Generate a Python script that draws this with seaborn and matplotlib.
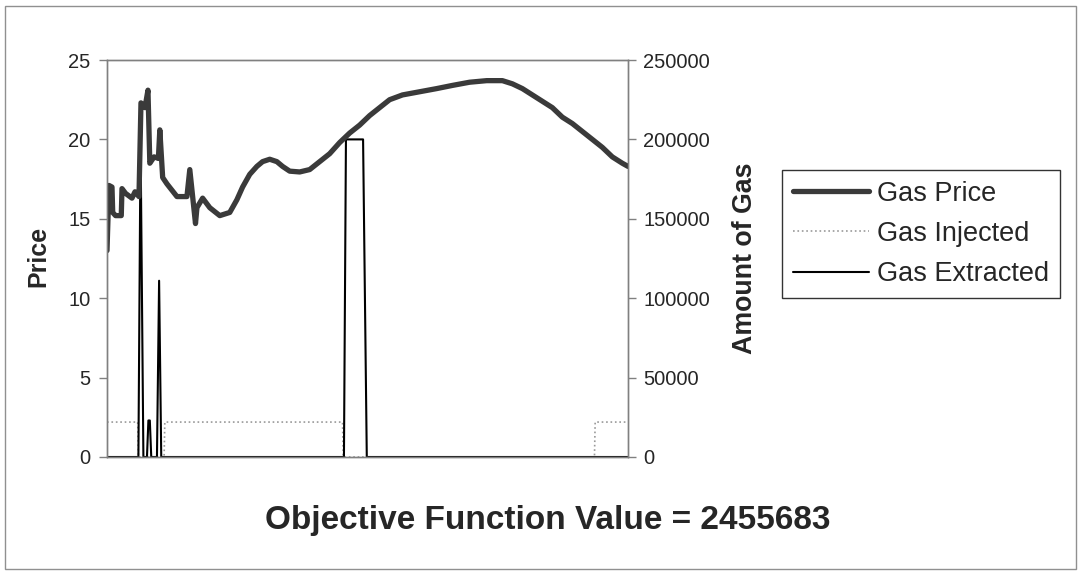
import matplotlib
matplotlib.use("Agg")
import matplotlib.pyplot as plt
import matplotlib.patches as patches
import seaborn as sns
import pandas as pd

# price curve (day of year -> $)
price_days = [0, 1.4, 3.5, 4, 6, 10, 10.5, 13, 16, 17.5, 19.6, 22.4, 23.8, 26.6, 28.7,
              30, 33, 36, 37, 39, 42, 45.5, 49, 56, 58, 62, 63, 67, 72,
              79, 86, 91, 95, 100, 105, 109, 114, 119, 123, 128, 135, 142, 149,
              156, 163, 170, 177, 184, 191, 198, 207, 219, 231, 242, 254, 266,
              277, 284, 291, 298, 305, 312, 319, 326, 333, 340, 347, 354, 361, 365]
price_vals = [13.0, 17.1, 17.0, 15.4, 15.2, 15.2, 16.9, 16.6, 16.4, 16.3, 16.7, 16.4,
              22.3, 22.0, 23.1, 18.5, 18.9, 18.8, 20.6, 17.6, 17.2, 16.8, 16.4, 16.4,
              18.1, 14.7, 15.7, 16.3, 15.7,
              15.2, 15.4, 16.2, 17.0, 17.8, 18.3, 18.6, 18.75, 18.6, 18.3, 18.0, 17.95,
              18.1, 18.6, 19.1, 19.8, 20.4, 20.9, 21.5, 22.0, 22.5, 22.8, 23.0, 23.2,
              23.4, 23.6, 23.7, 23.7, 23.5, 23.2, 22.8, 22.4, 22.0, 21.4, 21.0, 20.5,
              20.0, 19.5, 18.9, 18.5, 18.3]

# gas injected
inj_days = [0, 21.5, 22, 40, 40.5, 165, 165.5, 341.5, 342, 365]
inj_vals = [22000, 22000, 0, 0, 22000, 22000, 0, 0, 22000, 22000]

# gas extracted
ext_days = [0, 22, 23.5, 25.5, 28, 29, 30, 31, 35, 36.5, 38, 166, 167.4, 179.4, 182, 365]
ext_vals = [0, 0, 200000, 0, 0, 23000, 23000, 0, 0, 111000, 0, 0, 200000, 200000, 0, 0]

objective = 2455683

sns.set_style("white")
plt.rcParams['font.family'] = ['Liberation Sans', 'DejaVu Sans']

fig = plt.figure(figsize=(10.81, 5.74), dpi=100)
ax = fig.add_axes([107 / 1081, 117 / 574, 521 / 1081, 397 / 574])
ax2 = ax.twinx()

# price drawn above the amounts
ax.set_zorder(ax2.get_zorder() + 1)
ax.patch.set_visible(False)

price_df = pd.DataFrame({'day': price_days, 'price': price_vals})
inj_df = pd.DataFrame({'day': inj_days, 'amt': inj_vals})
ext_df = pd.DataFrame({'day': ext_days, 'amt': ext_vals})

sns.lineplot(data=price_df, x='day', y='price', ax=ax, color='#3a3a3a', lw=3.8,
             estimator=None, sort=False, label='Gas Price', legend=False)
sns.lineplot(data=inj_df, x='day', y='amt', ax=ax2, color='#999999', lw=1.2,
             linestyle=':', estimator=None, sort=False, label='Gas Injected', legend=False)
sns.lineplot(data=ext_df, x='day', y='amt', ax=ax2, color='black', lw=1.5,
             estimator=None, sort=False, label='Gas Extracted', legend=False)

ax.set_xlim(0, 365)
ax.set_ylim(0, 25)
ax2.set_ylim(0, 250000)
ax.set_yticks([0, 5, 10, 15, 20, 25])
ax2.set_yticks([0, 50000, 100000, 150000, 200000, 250000])
ax2.set_yticklabels([str(v) for v in [0, 50000, 100000, 150000, 200000, 250000]])
ax.set_xticks([])
ax.set_xlabel('')

ax.tick_params(axis='y', direction='out', length=6, width=1, color='#808080',
               labelsize=14.5, pad=6, left=True)
ax2.tick_params(axis='y', direction='out', length=6, width=1, color='#808080',
                labelsize=14.5, pad=5, right=True)

for a in (ax, ax2):
    for s in a.spines.values():
        s.set_color('#808080')
        s.set_linewidth(1)

ax.set_ylabel('Price', fontsize=18, fontweight='bold')
ax.yaxis.set_label_coords(-0.109, 0.505)
ax2.set_ylabel('Amount of Gas', fontsize=19.3, fontweight='bold')
ax2.yaxis.set_label_coords(1.2, 0.5)

handles = ax.get_lines()[:1] + ax2.get_lines()[:2]
leg = fig.legend(handles, ['Gas Price', 'Gas Injected', 'Gas Extracted'],
                 loc='upper left', bbox_to_anchor=(782 / 1081, 1 - 170 / 574),
                 fontsize=19.5, frameon=True, fancybox=False, handlelength=2.8,
                 handletextpad=0.3, labelspacing=0.52, borderpad=0.4,
                 borderaxespad=0)
leg.get_frame().set_edgecolor('black')
leg.get_frame().set_linewidth(1)

fig.text(548 / 1081, 1 - 520 / 574, f'Objective Function Value = {objective}',
         ha='center', va='center', fontsize=24, fontweight='bold')

# outer chart border
fig.patches.append(patches.Rectangle((5 / 1081, 5 / 574), 1071 / 1081, 563 / 574,
                                     transform=fig.transFigure, fill=False,
                                     edgecolor='#909090', lw=1))

fig.savefig('out.png', dpi=100)
